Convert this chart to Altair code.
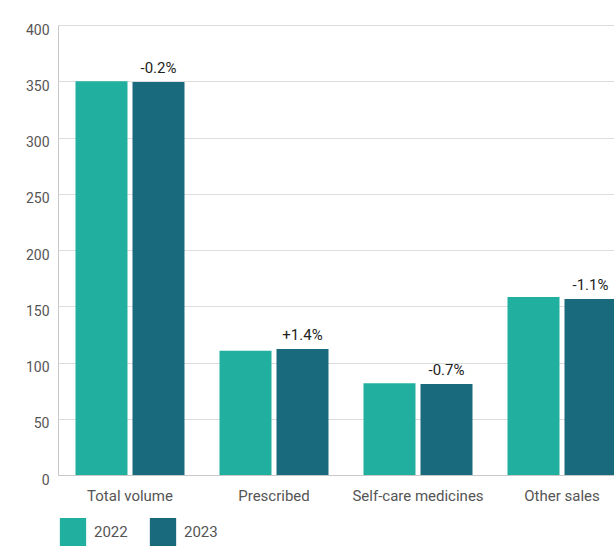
import altair as alt
import pandas as pd

# Sales volume by category, 2022 vs 2023
categories = ["Total volume", "Prescribed", "Self-care medicines", "Other sales"]
years = ["2022", "2023"]
volume_2022 = [350.0, 110.4, 81.5, 158.2]
volume_2023 = [349.3, 111.9, 80.9, 156.5]
y_ticks = [0, 50, 100, 150, 200, 250, 300, 350, 400]
year_colors = ["#21AF9F", "#1A6A7E"]

FONT = "Roboto"

bars_df = pd.DataFrame({
    "category": categories * 2,
    "year": [years[0]] * len(categories) + [years[1]] * len(categories),
    "value": volume_2022 + volume_2023,
})

labels_df = pd.DataFrame({
    "category": categories,
    "year": years[1],
    "value": volume_2023,
    "label": [f"{(b / a - 1) * 100:+.1f}%" for a, b in zip(volume_2022, volume_2023)],
})

x_enc = alt.X(
    "category:N",
    sort=categories,
    scale=alt.Scale(range=[0, 576], paddingInner=0.243, paddingOuter=0.1215),
    axis=alt.Axis(
        title=None, labelAngle=0, ticks=False, domain=True, domainColor="#c8c8c8",
        labelFont=FONT, labelFontSize=15, labelColor="#555555", labelPadding=13,
    ),
)
x_off = alt.XOffset("year:N", scale=alt.Scale(paddingInner=0.0877, paddingOuter=0))
y_enc = alt.Y(
    "value:Q",
    scale=alt.Scale(domain=[0, 400], nice=False),
    axis=alt.Axis(
        title=None, values=y_ticks, ticks=False, domain=True, domainColor="#c8c8c8",
        gridColor="#dddddd", labelFont=FONT, labelFontSize=14, labelColor="#555555",
        labelPadding=9, labelOffset=5,
    ),
)

# Tall rectangular swatch: custom paths are scaled by sqrt(size) / 2
swatch = "M-0.94,-1H0.94V1H-0.94Z"

bars = alt.Chart(bars_df).mark_bar().encode(
    x=x_enc,
    xOffset=x_off,
    y=y_enc,
    color=alt.Color(
        "year:N",
        scale=alt.Scale(domain=years, range=year_colors),
        legend=alt.Legend(
            title=None, orient="none", legendX=1, legendY=493, direction="horizontal",
            symbolType=swatch, symbolSize=784,
            symbolStrokeWidth=0, symbolOpacity=1, labelFont=FONT, labelFontSize=15,
            labelColor="#555555", labelOffset=7, columnPadding=21, padding=0,
        ),
    ),
)

labels = alt.Chart(labels_df).mark_text(
    dy=-14, baseline="middle", font=FONT, fontSize=15, color="#222222"
).encode(
    x=alt.X("category:N", sort=categories),
    xOffset=alt.XOffset("year:N"),
    y=alt.Y("value:Q"),
    text="label:N",
)

chart = (
    alt.layer(bars, labels)
    .properties(
        width=556,
        height=450,
        autosize=alt.AutoSizeParams(type="none"),
        padding={"left": 58, "top": 25, "right": 0, "bottom": 72},
    )
    .configure_view(strokeOpacity=0)
)

chart.save("out.html", embed_options={"renderer": "svg", "actions": False})
